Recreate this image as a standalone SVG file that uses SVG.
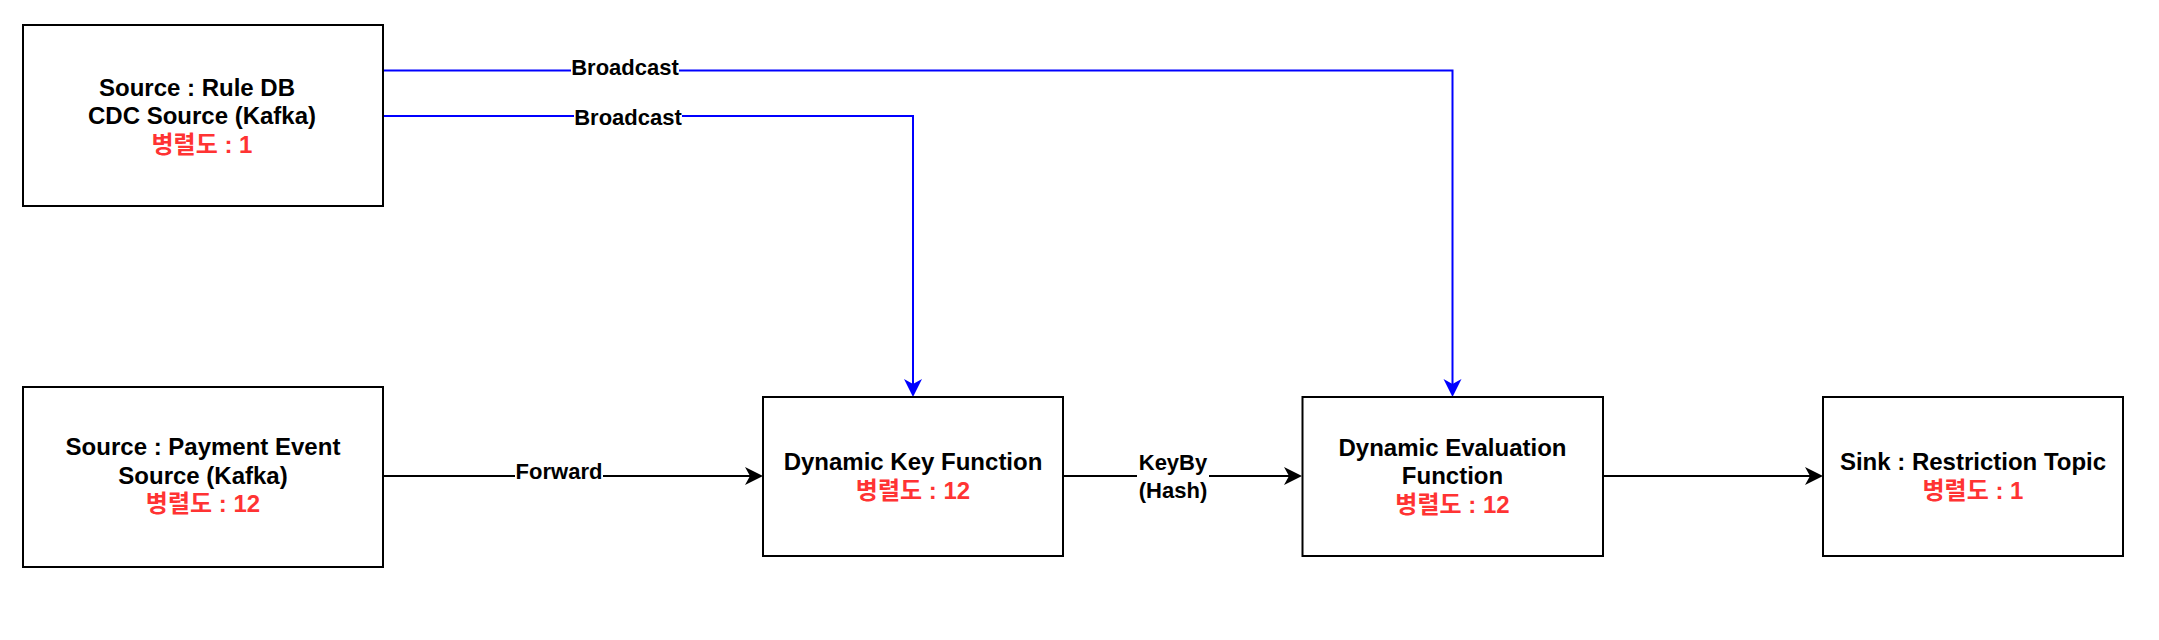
<svg xmlns="http://www.w3.org/2000/svg" width="2159" height="640" viewBox="0 0 2159 640">
<style>
.box{fill:#fff;stroke:#000;stroke-width:2}
.t{font-family:"Liberation Sans","Noto Sans CJK KR",Arial,sans-serif;font-weight:bold;font-size:24px;text-anchor:middle;fill:#000}
.r{fill:#FF3333}
.lbl{font-family:"Liberation Sans","Noto Sans CJK KR",Arial,sans-serif;font-weight:bold;font-size:22px;text-anchor:middle;fill:#000}
.bg{fill:#fff}
.blue{fill:none;stroke:#0000FF;stroke-width:2}
.black{fill:none;stroke:#000;stroke-width:2}
</style>
<defs>
<marker id="ab" viewBox="-19 -10 20 20" markerWidth="20" markerHeight="20" refX="-10" refY="0" orient="auto" markerUnits="userSpaceOnUse">
<path d="M0,0 L-18,-9 L-13,0 L-18,9 Z" fill="#0000FF"/>
</marker>
<marker id="ak" viewBox="-19 -10 20 20" markerWidth="20" markerHeight="20" refX="-10" refY="0" orient="auto" markerUnits="userSpaceOnUse">
<path d="M0,0 L-18,-9 L-13,0 L-18,9 Z" fill="#000"/>
</marker>
</defs>
<rect width="2159" height="640" fill="#fff"/>
<g id="connectors">
<path class="blue" d="M383,70.5 H1452.5 V387" marker-end="url(#ab)"/>
<path class="blue" d="M383,116 H913 V387" marker-end="url(#ab)"/>
<path class="black" d="M383,476 H753" marker-end="url(#ak)"/>
<path class="black" d="M1063,476 H1292" marker-end="url(#ak)"/>
<path class="black" d="M1603,476 H1813" marker-end="url(#ak)"/>
<rect class="bg" x="571" y="57" width="108" height="24"/>
<text class="lbl" x="625" y="75">Broadcast</text>
<rect class="bg" x="574" y="104" width="108" height="25"/>
<text class="lbl" x="628" y="125">Broadcast</text>
<rect class="bg" x="515" y="460" width="88" height="25"/>
<text class="lbl" x="559" y="479">Forward</text>
<rect class="bg" x="1137" y="449" width="72" height="54"/>
<text class="lbl" x="1173" y="469.5">KeyBy</text>
<text class="lbl" x="1173" y="498">(Hash)</text>
</g>
<g id="rule-db">
<rect class="box" x="23" y="25" width="360" height="181"/>
<text class="t" x="197" y="95.5">Source : Rule DB</text>
<text class="t" x="202" y="124">CDC Source (Kafka)</text>
<text class="t r" x="202" y="152.5">병렬도 : 1</text>
</g>
<g id="payment-event">
<rect class="box" x="23" y="387" width="360" height="180"/>
<text class="t" x="203" y="455">Source : Payment Event</text>
<text class="t" x="203" y="483.5">Source (Kafka)</text>
<text class="t r" x="203" y="512">병렬도 : 12</text>
</g>
<g id="dynamic-key">
<rect class="box" x="763" y="397" width="300" height="159"/>
<text class="t" x="913" y="470">Dynamic Key Function</text>
<text class="t r" x="913" y="498.5">병렬도 : 12</text>
</g>
<g id="dynamic-eval">
<rect class="box" x="1302.5" y="397" width="300.5" height="159"/>
<text class="t" x="1452.5" y="455.5">Dynamic Evaluation</text>
<text class="t" x="1452.5" y="484">Function</text>
<text class="t r" x="1452.5" y="512.5">병렬도 : 12</text>
</g>
<g id="sink">
<rect class="box" x="1823" y="397" width="300" height="159"/>
<text class="t" x="1973" y="470">Sink : Restriction Topic</text>
<text class="t r" x="1973" y="498.5">병렬도 : 1</text>
</g>
</svg>
